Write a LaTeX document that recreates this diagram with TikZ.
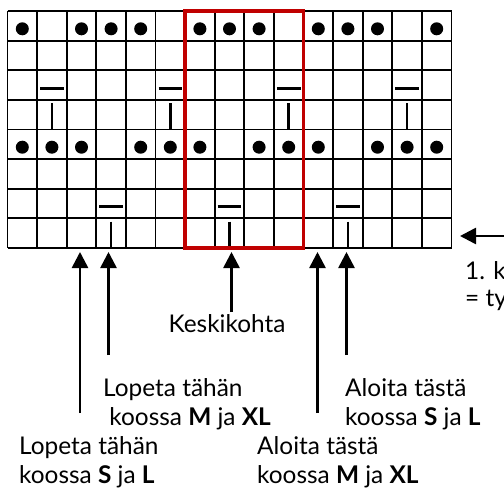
\documentclass[tikz,border=0pt]{standalone}
\usepackage{fontspec}
\setmainfont{Lato}
\usetikzlibrary{arrows.meta}
\newcommand{\cw}{29.6}
\newcommand{\gx}{7.5}
\newcommand{\gy}{11}

\begin{document}
\begin{tikzpicture}[x=1pt,y=-1pt,
    gridline/.style={line width=1.8pt},
    knot/.style={circle,fill,inner sep=0pt,minimum size=13pt},
    stroke/.style={line width=2.6pt},
    upmark/.style={line width=2.6pt,-{Triangle[width=16pt,length=16pt]}},
    txt/.style={anchor=base west,inner sep=0pt,font=\fontsize{24.4}{29}\selectfont}]
    \useasboundingbox (0,0) rectangle (504,488);
    % grid
    \foreach \i in {0,...,15}
      \draw[gridline] ({\gx+\i*\cw},\gy) -- ++(0,{8*\cw});
    \foreach \j in {0,...,8}
      \draw[gridline] (\gx,{\gy+\j*\cw}) -- ++({15*\cw},0);
    % dots
    \foreach \c in {1,3,4,5,7,8,9,11,12,13,15}
      \node[knot] (d1-\c) at ({\gx+(\c-0.5)*\cw},{\gy+0.5*\cw+3}) {};
    \foreach \c in {1,2,3,5,6,7,9,10,11,13,14,15}
      \node[knot] (d5-\c) at ({\gx+(\c-0.5)*\cw},{\gy+4.5*\cw+3}) {};
    % dash and bar
    \foreach \c in {2,6,10,14} {
      \draw[stroke] ({\gx+(\c-1)*\cw+3},{\gy+2*\cw+18}) -- ++({\cw-6},0);
      \draw[stroke] ({\gx+(\c-0.5)*\cw},{\gy+3*\cw+3.5}) -- ++(0,{\cw-3.5});
    }
    \foreach \c in {4,8,12} {
      \draw[stroke] ({\gx+(\c-1)*\cw+3},{\gy+6*\cw+18}) -- ++({\cw-6},0);
      \draw[stroke] ({\gx+(\c-0.5)*\cw},{\gy+7*\cw+3.5}) -- ++(0,{\cw-3.5});
    }
    % centre panel
    \draw[line width=3.4pt,color={rgb,255:red,192;green,0;blue,0}]
      ({\gx+6*\cw},\gy) rectangle ({\gx+10*\cw},{\gy+8*\cw});

    % labels
    \node[txt,anchor=base] (K) at (227,332) {Keskikohta};
    \node[txt] (L1a) at (103,396) {Lopeta tähän};
    \node[txt] (L1b) at (103,425) {\ koossa \textbf{M} ja \textbf{XL}};
    \node[txt] (L2a) at (19,454) {Lopeta tähän};
    \node[txt] (L2b) at (19,483) {koossa \textbf{S} ja \textbf{L}};
    \node[txt] (A1a) at (345,396) {Aloita tästä};
    \node[txt] (A1b) at (345,425) {koossa \textbf{S} ja \textbf{L}};
    \node[txt] (A2a) at (257,454) {Aloita tästä};
    \node[txt] (A2b) at (257,483) {koossa \textbf{M} ja \textbf{XL}};
    \node[txt] (R1) at (465,279) {1. krs};
    \node[txt] (R2) at (465,306) {= työn oikea puoli};

    % arrows
    \coordinate (t1) at (80,252);
    \coordinate (t2) at (108.5,252);
    \coordinate (t3) at (231.5,252);
    \coordinate (t4) at (317.5,252);
    \coordinate (t5) at (346.5,252);
    \coordinate (b1) at (80,413);
    \coordinate (b2) at (108.5,355);
    \coordinate (b3) at (231.5,312);
    \coordinate (b4) at (317.5,413);
    \coordinate (b5) at (346.5,355);
    \foreach \k in {1,...,5}
      \draw[upmark] (b\k) -- (t\k);
    \coordinate (rowstart) at (460,236);
    \coordinate (rowtail) at (520,236);
    \draw[upmark] (rowtail) -- (rowstart);
\end{tikzpicture}
\end{document}
